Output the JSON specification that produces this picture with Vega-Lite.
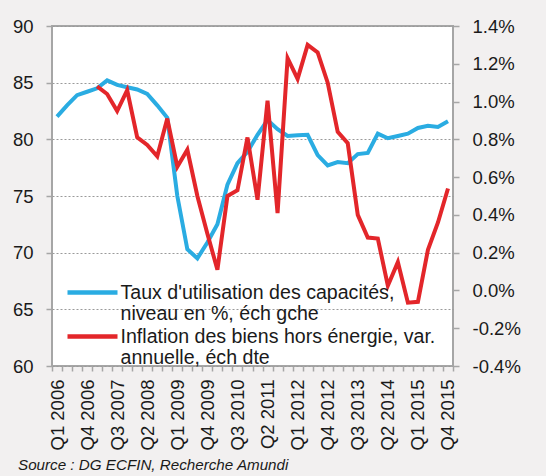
{
  "$schema": "https://vega.github.io/schema/vega-lite/v6.json",
  "width": 401,
  "height": 340,
  "autosize": {"type": "none"},
  "padding": {"left": 52, "top": 26, "right": 93, "bottom": 110},
  "background": "#f2f0f0",
  "title": {
    "text": "Source : DG ECFIN, Recherche Amundi",
    "orient": "bottom",
    "anchor": "start",
    "frame": "group",
    "dx": -34,
    "offset": 8,
    "fontSize": 15.2,
    "fontStyle": "italic",
    "fontWeight": "normal",
    "font": "Liberation Sans",
    "color": "#1a1a1a"
  },
  "data": {
    "values": [
      {"q": "Q1 2006", "cu": 82.0, "infl": null},
      {"q": "Q2 2006", "cu": 83.0, "infl": null},
      {"q": "Q3 2006", "cu": 83.9, "infl": null},
      {"q": "Q4 2006", "cu": 84.2, "infl": null},
      {"q": "Q1 2007", "cu": 84.5, "infl": 1.08},
      {"q": "Q2 2007", "cu": 85.2, "infl": 1.04},
      {"q": "Q3 2007", "cu": 84.8, "infl": 0.95},
      {"q": "Q4 2007", "cu": 84.6, "infl": 1.06},
      {"q": "Q1 2008", "cu": 84.4, "infl": 0.81},
      {"q": "Q2 2008", "cu": 84.0, "infl": 0.77},
      {"q": "Q3 2008", "cu": 83.0, "infl": 0.71},
      {"q": "Q4 2008", "cu": 81.9, "infl": 0.91},
      {"q": "Q1 2009", "cu": 75.0, "infl": 0.655},
      {"q": "Q2 2009", "cu": 70.3, "infl": 0.745},
      {"q": "Q3 2009", "cu": 69.5, "infl": 0.5},
      {"q": "Q4 2009", "cu": 70.9, "infl": 0.3},
      {"q": "Q1 2010", "cu": 72.5, "infl": 0.11},
      {"q": "Q2 2010", "cu": 76.0, "infl": 0.5},
      {"q": "Q3 2010", "cu": 77.9, "infl": 0.53},
      {"q": "Q4 2010", "cu": 78.9, "infl": 0.81},
      {"q": "Q1 2011", "cu": 80.4, "infl": 0.48},
      {"q": "Q2 2011", "cu": 81.7, "infl": 1.005},
      {"q": "Q3 2011", "cu": 80.9, "infl": 0.41},
      {"q": "Q4 2011", "cu": 80.3, "infl": 1.23},
      {"q": "Q1 2012", "cu": 80.35, "infl": 1.12},
      {"q": "Q2 2012", "cu": 80.4, "infl": 1.3},
      {"q": "Q3 2012", "cu": 78.6, "infl": 1.26},
      {"q": "Q4 2012", "cu": 77.7, "infl": 1.1},
      {"q": "Q1 2013", "cu": 78.0, "infl": 0.84},
      {"q": "Q2 2013", "cu": 77.9, "infl": 0.78},
      {"q": "Q3 2013", "cu": 78.7, "infl": 0.4},
      {"q": "Q4 2013", "cu": 78.8, "infl": 0.28},
      {"q": "Q1 2014", "cu": 80.5, "infl": 0.275},
      {"q": "Q2 2014", "cu": 80.1, "infl": 0.025},
      {"q": "Q3 2014", "cu": 80.3, "infl": 0.15},
      {"q": "Q4 2014", "cu": 80.5, "infl": -0.065},
      {"q": "Q1 2015", "cu": 81.0, "infl": -0.06},
      {"q": "Q2 2015", "cu": 81.2, "infl": 0.215},
      {"q": "Q3 2015", "cu": 81.1, "infl": 0.36},
      {"q": "Q4 2015", "cu": 81.6, "infl": 0.54}
    ]
  },
  "encoding": {
    "x": {
      "field": "q",
      "type": "nominal",
      "sort": null,
      "bandPosition": 0.5,
      "scale": {"type": "band", "paddingInner": 0, "paddingOuter": 0},
      "axis": {
        "title": null,
        "labelAngle": -90,
        "labelAlign": "right",
        "labelBaseline": "middle",
        "labelFontSize": 18.5,
        "labelPadding": 8,
        "tickBand": "extent",
        "tickSize": 5,
        "tickColor": "#a6a6a6",
        "tickWidth": 1.5,
        "domain": false,
        "grid": false,
        "labelExpr": "indexof(['Q1 2006','Q4 2006','Q3 2007','Q2 2008','Q1 2009','Q4 2009','Q3 2010','Q2 2011','Q1 2012','Q4 2012','Q3 2013','Q2 2014','Q1 2015','Q4 2015'], datum.value) >= 0 ? datum.value : ''"
      }
    }
  },
  "layer": [
    {
      "mark": {"type": "line", "strokeWidth": 4},
      "encoding": {
        "y": {
          "field": "cu",
          "type": "quantitative",
          "scale": {"domain": [60, 90], "nice": false, "zero": false},
          "axis": {
            "title": null,
            "orient": "left",
            "values": [60, 65, 70, 75, 80, 85, 90],
            "grid": true,
            "gridDash": [2, 2],
            "gridColor": "#9a9a9a",
            "gridWidth": 1,
            "tickSize": 6,
            "tickWidth": 1.5,
            "tickColor": "#a6a6a6",
            "labelPadding": 13,
            "labelFontSize": 18.5,
            "domain": false
          }
        },
        "color": {
          "datum": "Taux d'utilisation des capacités,|niveau en %, éch gche",
          "type": "nominal",
          "scale": {
            "domain": ["Taux d'utilisation des capacités,|niveau en %, éch gche", "Inflation des biens hors énergie, var.|annuelle, éch dte"],
            "range": ["#2aace2", "#e3262a"]
          },
          "legend": {
            "orient": "none",
            "legendX": 28,
            "legendY": 254,
            "direction": "vertical",
            "title": null,
            "symbolType": "M-2.5,0H2.5",
            "symbolSize": 400,
            "symbolStrokeWidth": 4.5,
            "labelFontSize": 19.6,
            "labelLimit": 500,
            "labelOffset": 15.5,
            "rowPadding": 0,
            "padding": 0,
            "labelColor": "#1a1a1a",
            "labelExpr": "split(datum.label, '|')"
          }
        }
      }
    },
    {
      "mark": {"type": "line", "strokeWidth": 4},
      "encoding": {
        "y": {
          "field": "infl",
          "type": "quantitative",
          "scale": {"domain": [-0.4, 1.4], "nice": false, "zero": false},
          "axis": {
            "title": null,
            "orient": "right",
            "values": [-0.4, -0.2, 0, 0.2, 0.4, 0.6, 0.8, 1, 1.2, 1.4],
            "grid": false,
            "tickSize": 6,
            "tickWidth": 1.5,
            "tickColor": "#a6a6a6",
            "labelPadding": 13,
            "labelFontSize": 18.5,
            "domain": false,
            "labelExpr": "replace(format(datum.value, '.1f'), '\u2212', '-') + '%'"
          }
        },
        "color": {
          "datum": "Inflation des biens hors énergie, var.|annuelle, éch dte",
          "type": "nominal"
        }
      }
    }
  ],
  "resolve": {"scale": {"y": "independent"}},
  "config": {
    "font": "Liberation Sans",
    "view": {"fill": "white", "stroke": "#a6a6a6", "strokeWidth": 2},
    "axis": {"labelColor": "#1a1a1a", "labelFont": "Liberation Sans"},
    "legend": {"labelFont": "Liberation Sans"}
  }
}
